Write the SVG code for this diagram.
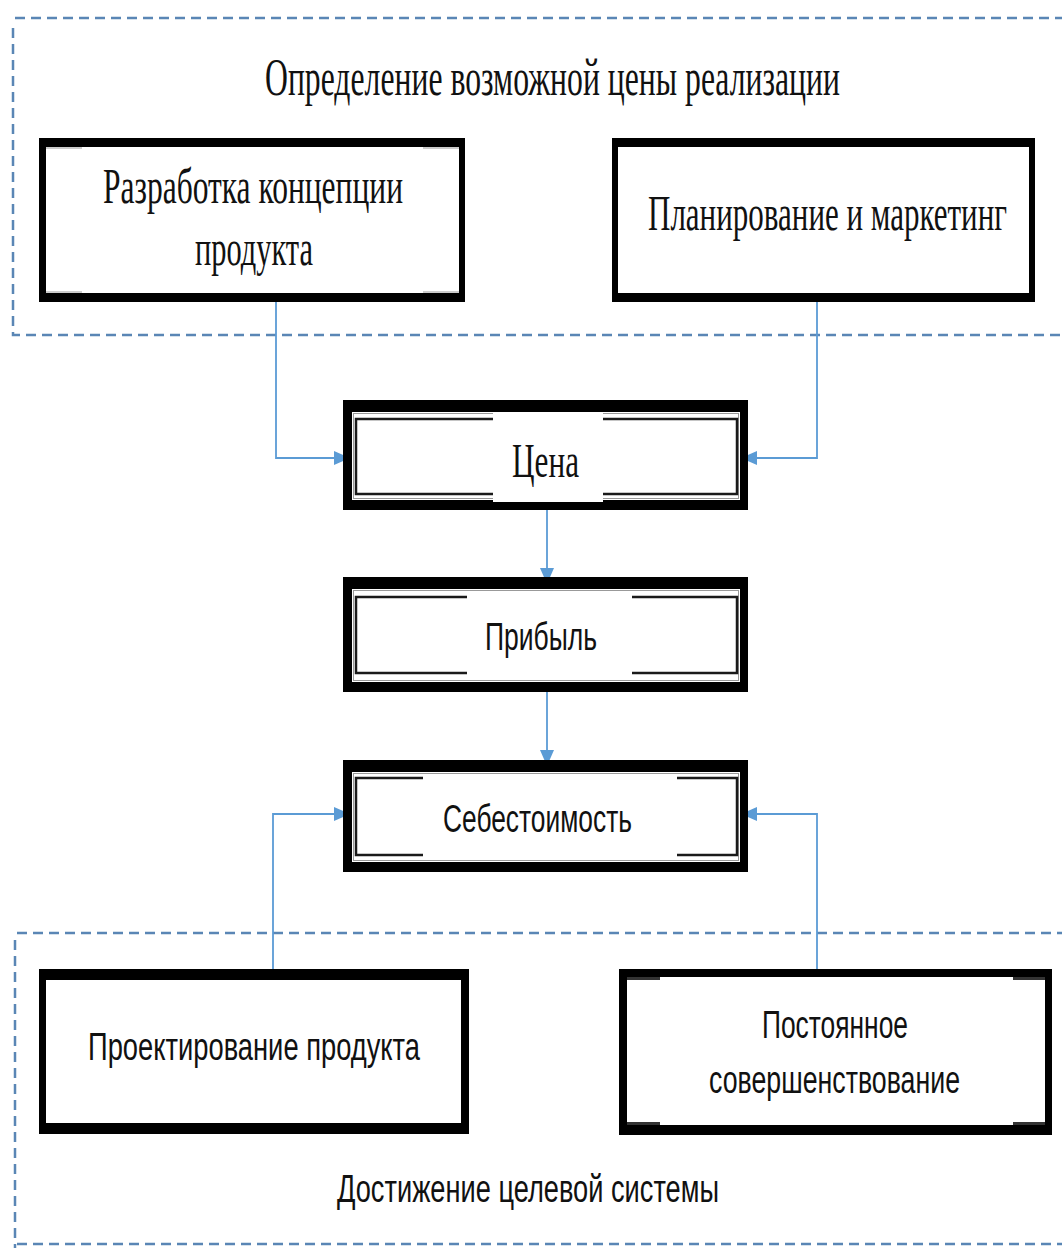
<svg xmlns="http://www.w3.org/2000/svg" width="1062" height="1248" viewBox="0 0 1062 1248">
<style>
.frame{fill:none;stroke:#5A86B5;stroke-width:2.5;stroke-dasharray:10 6}
.blk{fill:#000}
.wht{fill:#fff}
.dg{fill:#333}
.inl{fill:none;stroke:#1a1a1a;stroke-width:2.5}
.gl{fill:none;stroke:#999;stroke-width:1}
.con{fill:none;stroke:#5B9BD5;stroke-width:1.8}
.serif{font-family:"Liberation Serif","Times New Roman",serif;fill:#111}
.sans{font-family:"Liberation Sans",Arial,sans-serif;fill:#111}
</style>
<defs>
<marker id="ar" markerUnits="userSpaceOnUse" markerWidth="18" markerHeight="16" refX="16" refY="8" orient="auto">
<path d="M0,1 L16,8 L0,15 Z" fill="#5B9BD5"/>
</marker>
</defs>
<rect width="1062" height="1248" fill="#fff"/>

<g id="frame-top">
<path class="frame" d="M15,18 H1062"/>
<path class="frame" d="M13,28 V335 H1062"/>
<text class="serif" x="265" y="95" font-size="52" textLength="575" lengthAdjust="spacingAndGlyphs">Определение возможной цены реализации</text>
</g>

<g id="frame-bottom">
<path class="frame" d="M17,933 H1062"/>
<path class="frame" d="M15,940 V1248"/>
<path class="frame" d="M17,1244 H1062"/>
<text class="sans" x="337" y="1202" font-size="38" textLength="382" lengthAdjust="spacingAndGlyphs">Достижение целевой системы</text>
</g>

<g id="connectors">
<path class="con" d="M276,302 V458 H350" marker-end="url(#ar)"/>
<path class="con" d="M817,302 V458 H741" marker-end="url(#ar)"/>
<path class="con" d="M547,510 V584" marker-end="url(#ar)"/>
<path class="con" d="M547,692 V766" marker-end="url(#ar)"/>
<path class="con" d="M273,969 V814 H350" marker-end="url(#ar)"/>
<path class="con" d="M817,969 V814 H741" marker-end="url(#ar)"/>
</g>

<g id="node-razrabotka">
<rect class="blk" x="39" y="138" width="426" height="164"/>
<rect class="wht" x="46" y="147" width="413" height="146"/>
<path class="gl" d="M46,148 H82 M423,148 H459 M46,292 H82 M423,292 H459"/>
<text class="serif" x="103" y="203" font-size="50" textLength="300" lengthAdjust="spacingAndGlyphs">Разработка концепции</text>
<text class="serif" x="195" y="265" font-size="50" textLength="118" lengthAdjust="spacingAndGlyphs">продукта</text>
</g>

<g id="node-planirovanie">
<rect class="blk" x="612" y="138" width="423" height="164"/>
<rect class="wht" x="618" y="147" width="411" height="146"/>
<text class="serif" x="648" y="230" font-size="50" textLength="359" lengthAdjust="spacingAndGlyphs">Планирование и маркетинг</text>
</g>

<g id="node-cena">
<rect class="blk" x="343" y="400" width="405" height="110"/>
<rect class="wht" x="352" y="412" width="388" height="88"/>
<rect class="gl" x="353.5" y="413.5" width="385" height="85"/>
<rect class="inl" x="356" y="419" width="381" height="75"/>
<rect class="wht" x="493" y="413" width="110" height="89"/>
<text class="serif" x="512" y="477" font-size="48" textLength="67" lengthAdjust="spacingAndGlyphs">Цена</text>
</g>

<g id="node-pribyl">
<rect class="blk" x="343" y="577" width="405" height="115"/>
<rect class="wht" x="352" y="589" width="388" height="93"/>
<rect class="gl" x="353.5" y="590.5" width="385" height="90"/>
<rect class="inl" x="356" y="597" width="381" height="76"/>
<rect class="wht" x="467" y="593" width="165" height="84"/>
<text class="sans" x="485" y="650" font-size="38" textLength="112" lengthAdjust="spacingAndGlyphs">Прибыль</text>
</g>

<g id="node-sebestoimost">
<rect class="blk" x="343" y="760" width="405" height="112"/>
<rect class="wht" x="352" y="772" width="388" height="90"/>
<rect class="gl" x="353.5" y="773.5" width="385" height="87"/>
<rect class="inl" x="356" y="778" width="381" height="77"/>
<rect class="wht" x="423" y="775" width="254" height="84"/>
<text class="sans" x="443" y="832" font-size="38" textLength="189" lengthAdjust="spacingAndGlyphs">Себестоимость</text>
</g>

<g id="node-proektirovanie">
<rect class="blk" x="39" y="969" width="430" height="165"/>
<rect class="wht" x="46" y="980" width="415" height="143"/>
<text class="sans" x="88" y="1060" font-size="38" textLength="332" lengthAdjust="spacingAndGlyphs">Проектирование продукта</text>
</g>

<g id="node-postoyannoe">
<rect class="blk" x="619" y="969" width="433" height="166"/>
<rect class="wht" x="627" y="977" width="418" height="148"/>
<rect class="dg" x="627" y="977" width="33" height="3"/>
<rect class="dg" x="1013" y="977" width="32" height="3"/>
<rect class="dg" x="627" y="1122" width="33" height="3"/>
<rect class="dg" x="1013" y="1122" width="32" height="3"/>
<text class="sans" x="762" y="1038" font-size="38" textLength="146" lengthAdjust="spacingAndGlyphs">Постоянное</text>
<text class="sans" x="709" y="1093" font-size="38" textLength="251" lengthAdjust="spacingAndGlyphs">совершенствование</text>
</g>
</svg>
